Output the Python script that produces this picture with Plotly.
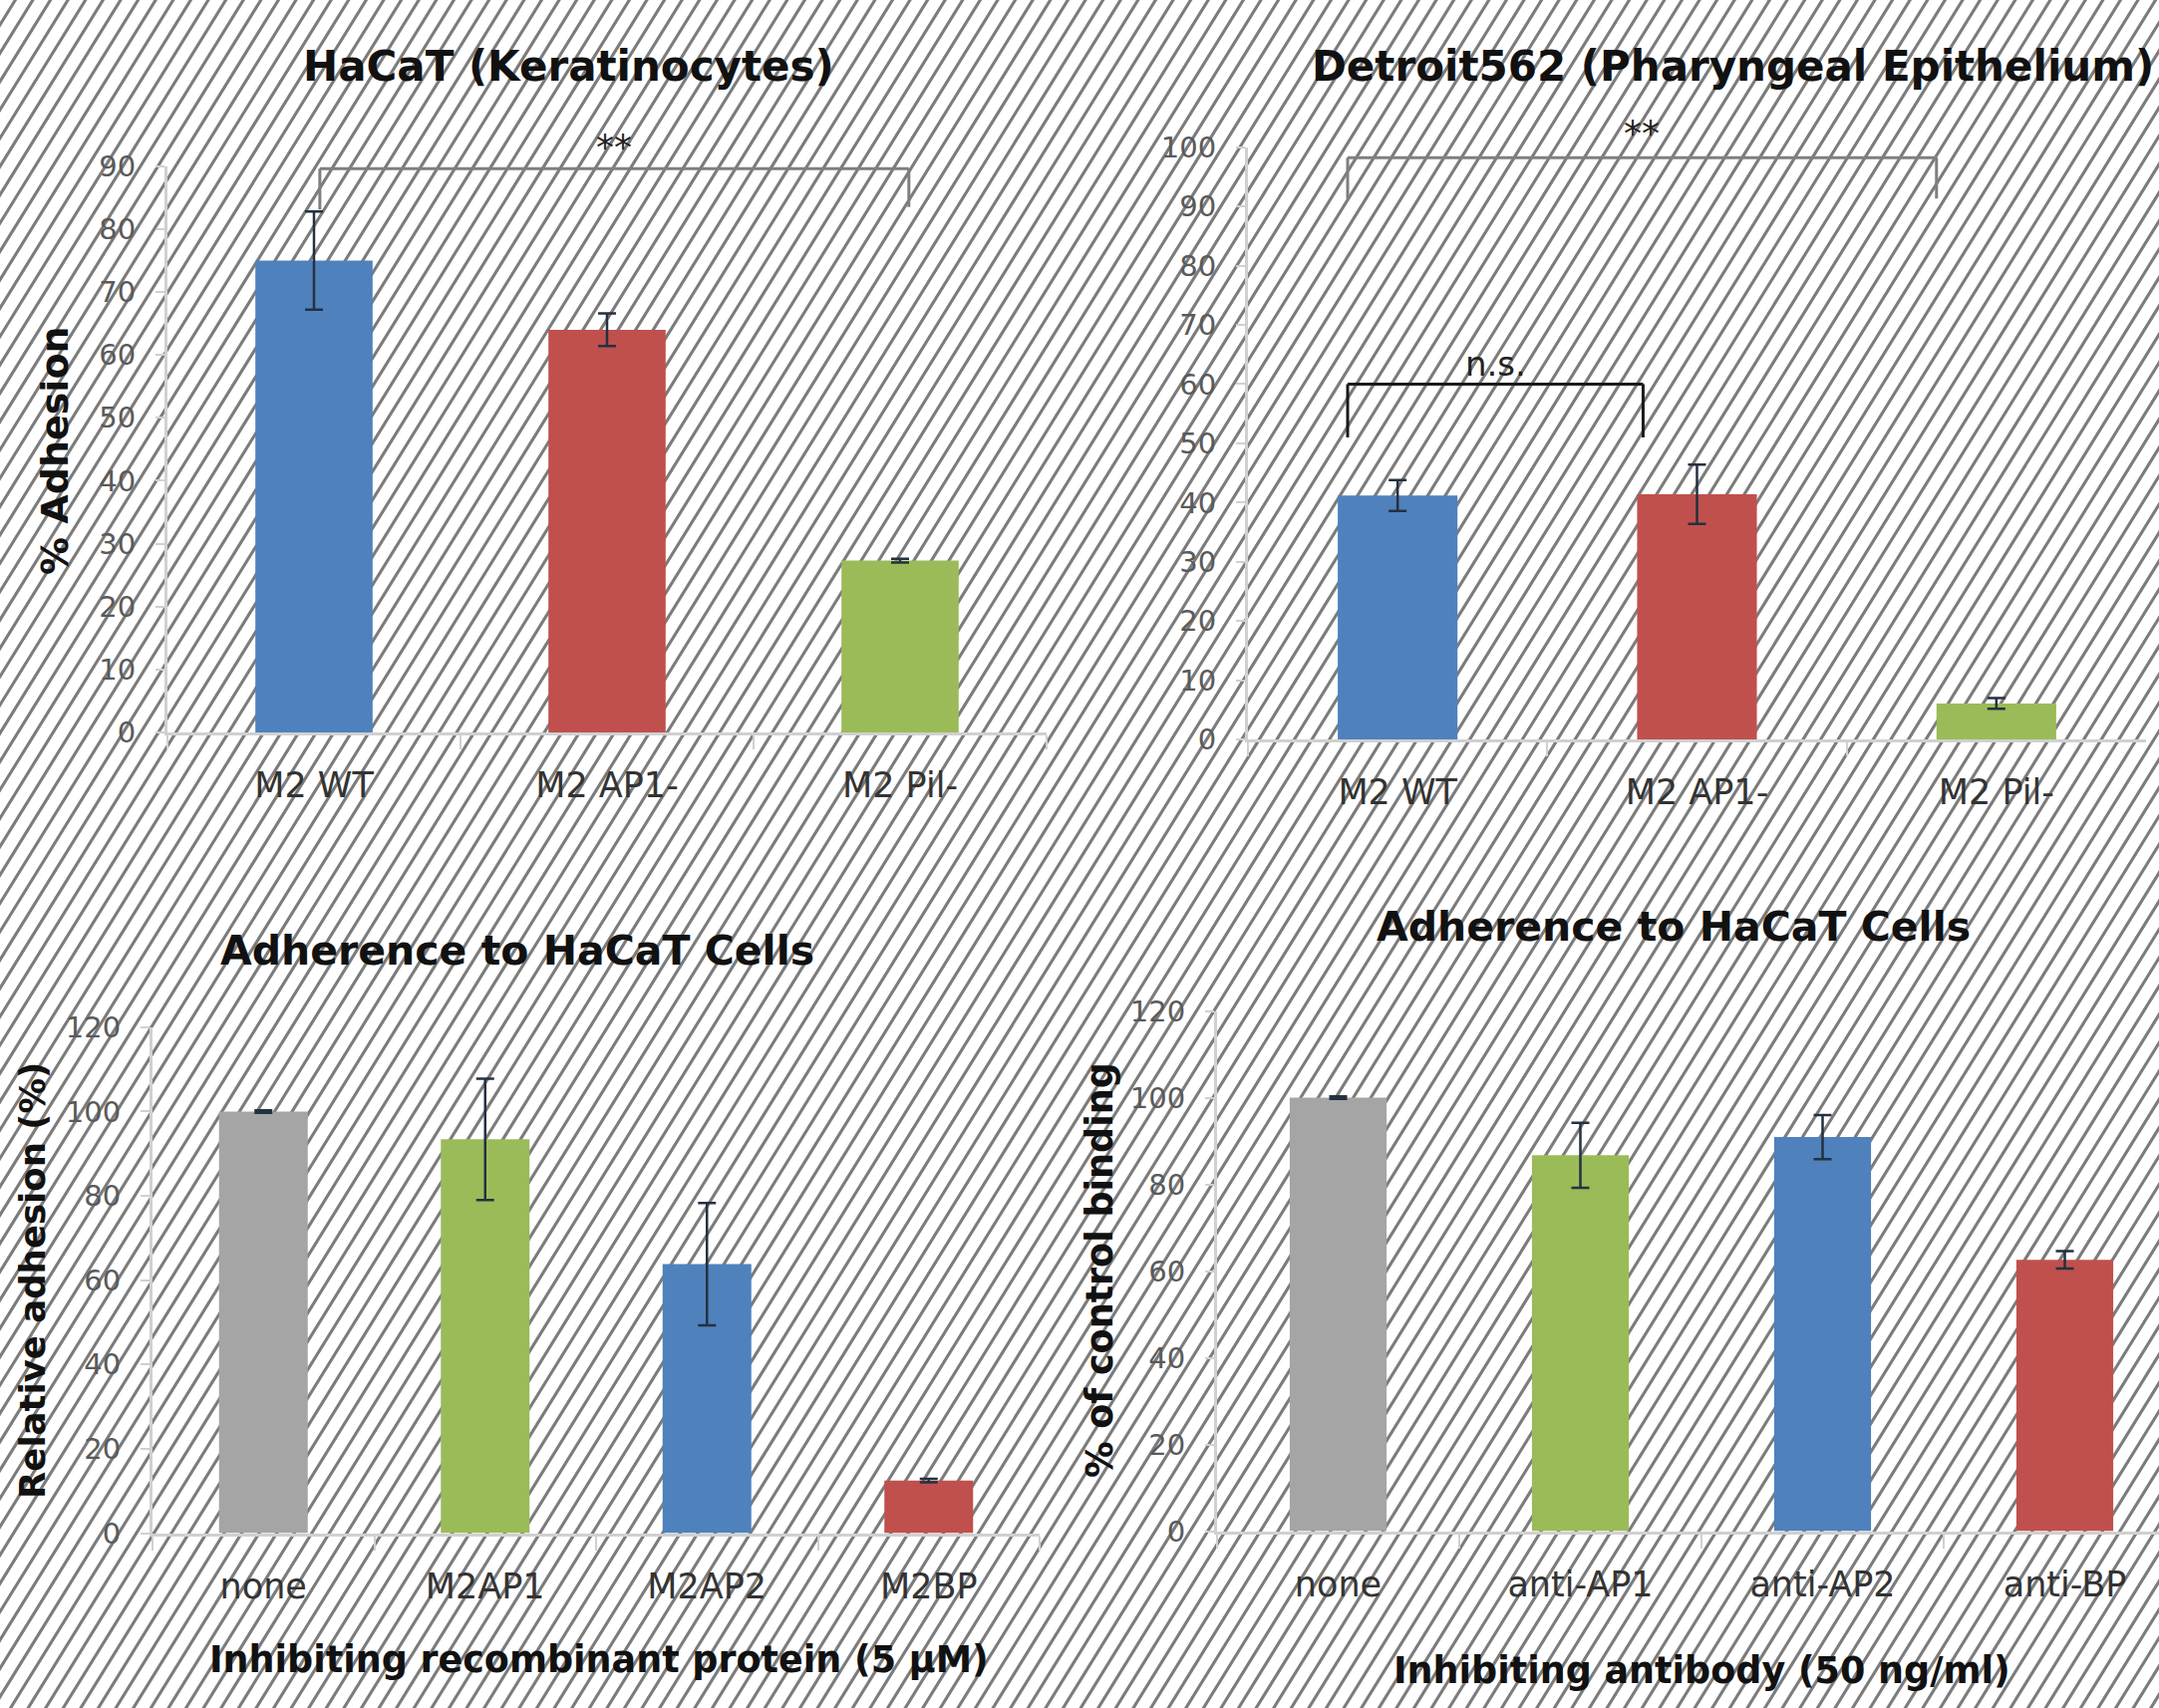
import plotly.graph_objects as go

W, H = 2166, 1714

# ---------------- data ----------------
hacat_cats = ["M2 WT", "M2 AP1-", "M2 Pil-"]
hacat_vals = [75.0, 64.0, 27.3]
hacat_err = [7.8, 2.6, 0.3]

detroit_cats = ["M2 WT", "M2 AP1-", "M2 Pil-"]
detroit_vals = [41.2, 41.4, 6.1]
detroit_err = [2.6, 5.0, 0.9]

protein_cats = ["none", "M2AP1", "M2AP2", "M2BP"]
protein_vals = [100.0, 93.4, 63.8, 12.5]
protein_err = [0.3, 14.4, 14.5, 0.4]

antibody_cats = ["none", "anti-AP1", "anti-AP2", "anti-BP"]
antibody_vals = [100.0, 86.7, 90.9, 62.6]
antibody_err = [0.3, 7.5, 5.1, 2.0]

# significance brackets: (x_left, x_right, y_top, y_left_end, y_right_end, label, label_y)
hacat_brackets = [(0.02, 2.03, 89.6, 83.1, 83.5, "**", 93.0)]
detroit_brackets = [(-0.167, 1.80, 98.2, 91.3, 91.3, "**", 102.3),
                    (-0.167, 0.82, 60.0, 51.0, 51.0, "n.s.", 63.4)]

# ---------------- styles ----------------
BLUE, RED, GREEN, GRAY = "#4f81bd", "#c0504d", "#9bbb59", "#a5a5a5"
FONT = "DejaVu Sans"
AXC = "#d0d0d0"

fig = go.Figure()

panels = [
    dict(cats=hacat_cats, vals=hacat_vals, err=hacat_err, colors=[BLUE, RED, GREEN],
         xd=[168 / W, 1050 / W], yd=[1 - 735 / H, 1 - 166.7 / H], yr=[0, 90], dt=10,
         xr=[-0.5, 2.5], brackets=hacat_brackets,
         bcolors=["#7f7f7f"]),
    dict(cats=detroit_cats, vals=detroit_vals, err=detroit_err, colors=[BLUE, RED, GREEN],
         xd=[1252 / W, 2153 / W], yd=[1 - 742.2 / H, 1 - 147.6 / H], yr=[0, 100], dt=10,
         xr=[-0.5, 2.5], brackets=detroit_brackets,
         bcolors=["#7f7f7f", "#1a1a1a"]),
    dict(cats=protein_cats, vals=protein_vals, err=protein_err, colors=[GRAY, GREEN, BLUE, RED],
         xd=[153 / W, 1043 / W], yd=[1 - 1538.6 / H, 1 - 1030.8 / H], yr=[0, 120], dt=20,
         xr=[-0.5, 3.5], brackets=[], bcolors=[]),
    dict(cats=antibody_cats, vals=antibody_vals, err=antibody_err, colors=[GRAY, GREEN, BLUE, RED],
         xd=[1221 / W, 1.0], yd=[1 - 1536.5 / H, 1 - 1014.5 / H], yr=[0, 120], dt=20,
         xr=[-0.5, -0.5 + 945 / 243], brackets=[], bcolors=[]),
]

shapes = []
annotations = []

# diagonal hatch background (decoration)
period, slope = 17.6, 1.6
segs = []
run = H / slope
k = -int(run / period) - 2
while k * period < W + 10:
    xb = k * period
    xt = xb + run
    segs.append(f"M{xb / W:.5f},-0.01L{(xt + 0.01 * run) / W:.5f},1.01")
    k += 1
shapes.append(dict(type="path", xref="paper", yref="paper", path="".join(segs),
                   line=dict(color="#7c7c7c", width=3.1), layer="below"))


def to_paper(p, xv, yv):
    xd, yd, xr, yr = p["xd"], p["yd"], p["xr"], p["yr"]
    px = xd[0] + (xv - xr[0]) / (xr[1] - xr[0]) * (xd[1] - xd[0])
    py = yd[0] + (yv - yr[0]) / (yr[1] - yr[0]) * (yd[1] - yd[0])
    return px, py


for i, p in enumerate(panels, start=1):
    xa = "x" if i == 1 else f"x{i}"
    ya = "y" if i == 1 else f"y{i}"
    fig.add_trace(go.Bar(
        x=p["cats"], y=p["vals"], xaxis=xa, yaxis=ya, width=0.4,
        marker=dict(color=p["colors"], line=dict(width=0)),
        error_y=dict(type="data", array=p["err"], color="#243140", thickness=2.5, width=9),
        showlegend=False, hoverinfo="skip"))
    xkey = "xaxis" if i == 1 else f"xaxis{i}"
    ykey = "yaxis" if i == 1 else f"yaxis{i}"
    fig.update_layout(**{
        xkey: dict(domain=p["xd"], anchor=ya, type="category", range=p["xr"],
                   showline=True, linecolor=AXC, linewidth=3, ticks="outside",
                   tickson="boundaries", ticklen=14, tickwidth=2, tickcolor=AXC,
                   tickfont=dict(family=FONT, size=35, color="#333333"),
                   ticklabelstandoff=20, showgrid=False, zeroline=False,
                   fixedrange=True, automargin=False),
        ykey: dict(domain=p["yd"], anchor=xa, range=p["yr"], dtick=p["dt"],
                   showline=True, linecolor=AXC, linewidth=3, ticks="outside",
                   ticklen=9, tickwidth=2, tickcolor=AXC,
                   tickfont=dict(family=FONT, size=29, color="#5a5a5a"),
                   ticklabelstandoff=14, showgrid=False, zeroline=False,
                   fixedrange=True, automargin=False),
    })
    for (x0, x1, yt, yl, yrr, lab, ly), bc in zip(p["brackets"], p["bcolors"]):
        for sx0, sy0, sx1, sy1 in [(x0, yl, x0, yt), (x0, yt, x1, yt), (x1, yt, x1, yrr)]:
            shapes.append(dict(type="line", xref=xa, yref=ya, x0=sx0, y0=sy0, x1=sx1, y1=sy1,
                               line=dict(color=bc, width=3)))
        ax_, ay_ = to_paper(p, (x0 + x1) / 2, ly)
        annotations.append(dict(xref="paper", yref="paper", x=ax_, y=ay_, text=lab,
                                showarrow=False, xanchor="center", yanchor="middle",
                                font=dict(family=FONT, size=34 if lab != "**" else 36,
                                          color="#222222")))


def txt(x, y, s, size, angle=0):
    annotations.append(dict(xref="paper", yref="paper", x=x / W, y=1 - y / H, text=s,
                            showarrow=False, xanchor="center", yanchor="middle",
                            textangle=angle,
                            font=dict(family=FONT, size=size, color="#111111", weight="bold")))


txt(570, 66, "HaCaT (Keratinocytes)", 42)
txt(1738, 66, "Detroit562 (Pharyngeal Epithelium)", 42)
txt(519, 954, "Adherence to HaCaT Cells", 41)
txt(1679, 930, "Adherence to HaCaT Cells", 41)
txt(55, 452, "% Adhesion", 38, -90)
txt(32, 1285, "Relative adhesion (%)", 35.5, -90)
txt(1103, 1275, "% of control binding", 36.5, -90)
txt(601, 1665, "Inhibiting recombinant protein (5 µM)", 36.5)
txt(1707, 1676, "Inhibiting antibody (50 ng/ml)", 36.5)

fig.update_layout(width=W, height=H,
                  margin=dict(l=0, r=0, t=0, b=0, pad=0, autoexpand=False),
                  paper_bgcolor="white", plot_bgcolor="rgba(0,0,0,0)",
                  shapes=shapes, annotations=annotations, showlegend=False,
                  font=dict(family=FONT))

fig.write_html("out.html", config={"displayModeBar": False},
               post_script="document.body.style.margin='0';")
